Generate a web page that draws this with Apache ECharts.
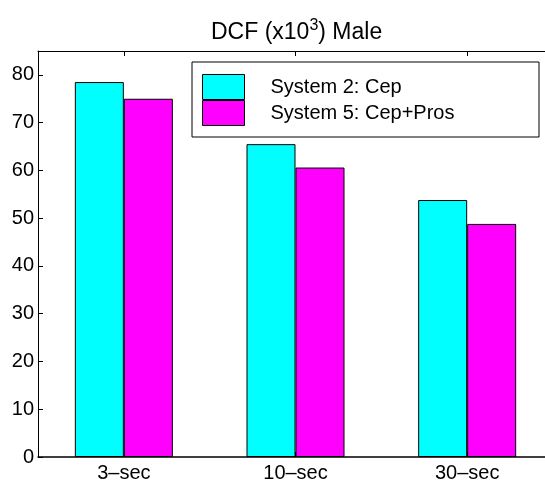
<!DOCTYPE html>
<html>
<head>
<meta charset="utf-8">
<script src="https://cdn.jsdelivr.net/npm/echarts@6/dist/echarts.min.js"></script>
<style>
html,body{margin:0;padding:0;background:#fff;overflow:hidden;}
#chart{width:545px;height:483px;}
</style>
</head>
<body>
<div id="chart"></div>
<script>
const categories = ['3\u2013sec', '10\u2013sec', '30\u2013sec'];
const seriesNames = ['System 2: Cep', 'System 5: Cep+Pros'];
const system2 = [78.5, 65.5, 53.8];
const system5 = [75.0, 60.6, 48.8];
const yTicks = [0, 10, 20, 30, 40, 50, 60, 70, 80];

const FONT = "'Liberation Sans', Arial, Helvetica, sans-serif";
const chart = echarts.init(document.getElementById('chart'));
chart.setOption({
  animation: false,
  backgroundColor: '#fff',
  title: {
    text: 'DCF (x10{sup|3}) Male',
    left: 211,
    top: 18,
    padding: 0,
    textStyle: {
      fontFamily: FONT, fontSize: 23, fontWeight: 'normal', color: '#000',
      rich: { sup: { fontFamily: FONT, fontSize: 16, color: '#000', padding: [0, 0, 14, 0] } }
    }
  },
  grid: { left: 38, width: 515, top: 51, height: 406, containLabel: false, outerBoundsMode: 'none' },
  xAxis: [
    {
      type: 'category', data: categories, position: 'bottom',
      axisLine: { show: true, lineStyle: { color: '#000', width: 1.5 } },
      axisTick: { show: true, inside: true, alignWithLabel: true, length: 5, lineStyle: { color: '#000' } },
      axisLabel: { fontFamily: FONT, fontSize: 20, color: '#000', margin: 6 }
    },
    {
      type: 'category', data: categories, position: 'top',
      axisLine: { show: true, lineStyle: { color: '#000', width: 1 } },
      axisTick: { show: true, inside: true, alignWithLabel: true, length: 5, lineStyle: { color: '#000' } },
      axisLabel: { show: false }
    }
  ],
  yAxis: {
    type: 'value', min: 0, max: 85, interval: 10,
    axisLine: { show: true, lineStyle: { color: '#000', width: 1 } },
    axisTick: { show: true, inside: true, length: 5, lineStyle: { color: '#000' } },
    axisLabel: {
      fontFamily: FONT, fontSize: 20, color: '#000', margin: 4,
      formatter: function (v) { return yTicks.indexOf(v) >= 0 ? String(v) : ''; }
    },
    splitLine: { show: false }
  },
  legend: {
    orient: 'vertical', left: 202, top: 74, padding: 0,
    itemWidth: 42, itemHeight: 25, itemGap: 0,
    icon: 'rect',
    itemStyle: { borderColor: '#000', borderWidth: 1 },
    textStyle: { fontFamily: FONT, fontSize: 20, color: '#000', padding: [0, 0, 0, 21] },
    data: seriesNames
  },
  graphic: [
    { type: 'rect', z: 3, shape: { x: 192, y: 62, width: 347, height: 75 },
      style: { fill: '#fff', stroke: '#000', lineWidth: 1 } }
  ],
  series: [
    { name: seriesNames[0], type: 'bar', xAxisIndex: 0, data: system2, barWidth: 49, barGap: '0%',
      itemStyle: { color: '#00ffff', borderColor: '#000', borderWidth: 1 } },
    { name: seriesNames[1], type: 'bar', xAxisIndex: 0, data: system5, barWidth: 49, barGap: '0%',
      itemStyle: { color: '#ff00ff', borderColor: '#000', borderWidth: 1 } }
  ]
});
</script>
</body>
</html>
